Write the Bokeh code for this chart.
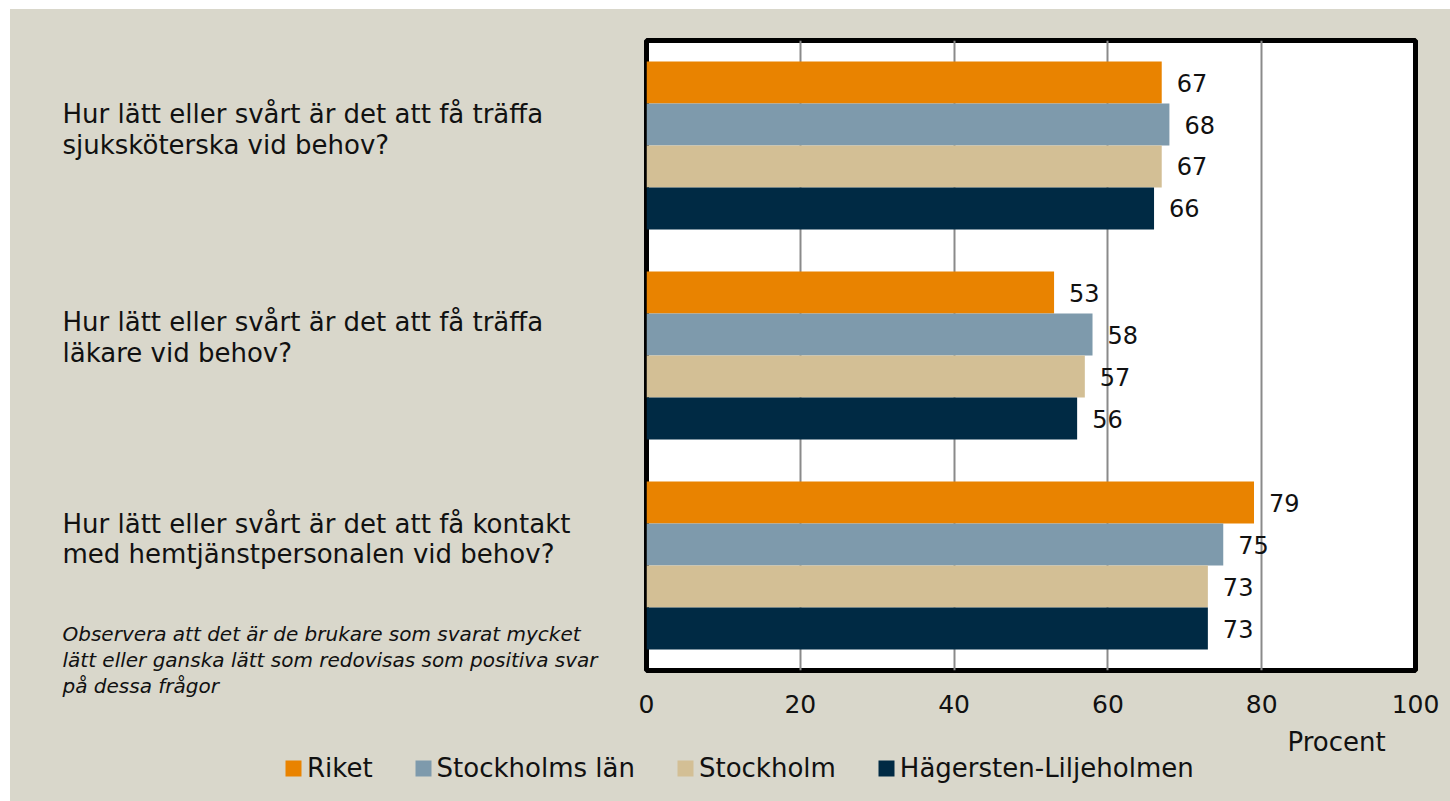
from bokeh.plotting import figure
from bokeh.models import (Range1d, FactorRange, Label, Legend, LegendItem,
                          ColumnDataSource, SingleIntervalTicker, Spacer)
from bokeh.layouts import column, row
from bokeh.transform import dodge
from bokeh.core.properties import value
from bokeh.embed import file_html
from bokeh.resources import INLINE

# ---------------- data ----------------
questions = [
    "Hur lätt eller svårt är det att få träffa\nsjuksköterska vid behov?",
    "Hur lätt eller svårt är det att få träffa\nläkare vid behov?",
    "Hur lätt eller svårt är det att få kontakt\nmed hemtjänstpersonalen vid behov?",
]
series_names = ["Riket", "Stockholms län", "Stockholm", "Hägersten-Liljeholmen"]
riket = [67, 53, 79]
stockholms_lan = [68, 58, 75]
stockholm = [67, 57, 73]
hagersten = [66, 56, 73]
x_axis_label = "Procent"
note = ("Observera att det är de brukare som svarat mycket\n"
        "lätt eller ganska lätt som redovisas som positiva svar\n"
        "på dessa frågor")

# ---------------- styles ----------------
colors = ["#E98300", "#7E9AAC", "#D3BF95", "#002A44"]
offsets = [0.3, 0.1, -0.1, -0.3]
label_lift = [0.076, 0.084, 0.126]
BG = "#D9D7CB"
FONT = "DejaVu Sans"
TXT = "#111111"

LEFT_W, MAIN_W, TOP_H, BOT_H = 626, 814, 712, 80
MB_TOP, MB_BOT, MB_LEFT, MB_RIGHT = 31, 51, 10, 35
n_q = len(questions)

series_values = [riket, stockholms_lan, stockholm, hagersten]
keys = ["s0", "s1", "s2", "s3"]
data = {"q": questions}
for k, vals in zip(keys, series_values):
    data[k] = vals
source = ColumnDataSource(data)

# ---------------- main chart ----------------
p = figure(width=MAIN_W, height=TOP_H, output_backend="svg", toolbar_location=None,
           x_range=Range1d(0, 100),
           y_range=FactorRange(factors=list(reversed(questions)), range_padding=0),
           y_axis_location=None,
           min_border_left=MB_LEFT, min_border_right=MB_RIGHT,
           min_border_top=MB_TOP, min_border_bottom=MB_BOT)
p.frame_align = False
p.border_fill_color = BG
p.background_fill_color = "white"
p.outline_line_color = "black"
p.outline_line_width = 5

p.xaxis.ticker = SingleIntervalTicker(interval=20)
p.xaxis.axis_line_color = None
p.xaxis.major_tick_line_color = None
p.xaxis.minor_tick_line_color = None
p.xaxis.major_label_text_font = FONT
p.xaxis.major_label_text_font_size = "25px"
p.xaxis.major_label_text_color = TXT
p.xaxis.major_label_standoff = 18

p.xgrid.grid_line_color = "#8A8A8A"
p.xgrid.grid_line_width = 2
p.ygrid.grid_line_color = None

for k, off, col in zip(keys, offsets, colors):
    p.hbar(y=dodge("q", off, range=p.y_range), right=k, left=0, height=0.2,
           source=source, fill_color=col, line_color=None)
    p.text(x=k, y=dodge("q", off, range=p.y_range), text=k, source=source,
           x_offset=15, text_baseline="middle", text_align="left",
           text_font=value(FONT), text_font_size="24px", text_color=TXT)

# ---------------- left panel: question texts + note ----------------
frame_h = TOP_H - MB_TOP - MB_BOT
px_per_cat = frame_h / n_q
left = figure(width=LEFT_W, height=TOP_H, output_backend="svg", toolbar_location=None,
              x_range=Range1d(0, LEFT_W),
              y_range=Range1d(-MB_BOT / px_per_cat, n_q + MB_TOP / px_per_cat),
              x_axis_location=None, y_axis_location=None,
              min_border=0)
left.frame_align = False
left.border_fill_color = BG
left.background_fill_color = BG
left.outline_line_color = None
left.grid.grid_line_color = None

for i, q in enumerate(questions):
    left.add_layout(Label(x=52, y=n_q - i - 0.5 + label_lift[i], text=q,
                          text_font=FONT, text_font_size="26px", text_color=TXT,
                          text_baseline="middle", text_align="left",
                          text_line_height=1.03))
left.add_layout(Label(x=52, y=0.05, text=note, text_font=FONT,
                      text_font_style="italic", text_font_size="20px",
                      text_color=TXT, text_baseline="middle", text_align="left",
                      text_line_height=1.08))

# ---------------- bottom panel: axis title + legend ----------------
bottom = figure(width=LEFT_W + MAIN_W, height=BOT_H, output_backend="svg",
                toolbar_location=None,
                x_range=Range1d(0, LEFT_W + MAIN_W), y_range=Range1d(BOT_H, 0),
                x_axis_location=None, y_axis_location=None, min_border=0)
bottom.frame_align = False
bottom.border_fill_color = BG
bottom.background_fill_color = BG
bottom.outline_line_color = None
bottom.grid.grid_line_color = None

bottom.add_layout(Label(x=1277, y=20, text=x_axis_label, text_font=FONT,
                        text_font_size="26px", text_color=TXT,
                        text_baseline="middle", text_align="left"))

# zero-area helper bars that only carry the legend swatches
legend_renderers = []
for col in colors:
    r = bottom.hbar(y=[0], right=[0], left=[0], height=0,
                    fill_color=col, line_color=None)
    legend_renderers.append(r)

legend = Legend(items=[LegendItem(label=n, renderers=[r])
                       for n, r in zip(series_names, legend_renderers)],
                orientation="horizontal", location=(273, 18),
                glyph_width=20, glyph_height=20, label_standoff=4, spacing=40,
                padding=0, margin=0, border_line_color=None,
                background_fill_alpha=0,
                label_text_font=FONT, label_text_font_size="26px",
                label_text_color=TXT)
bottom.add_layout(legend, "center")

inner = column(row(left, p), bottom, spacing=0)
inner.styles = {"background-color": BG}
layout = column(Spacer(height=9), row(Spacer(width=10), inner))
open("out.html", "w").write(file_html(layout, INLINE))
